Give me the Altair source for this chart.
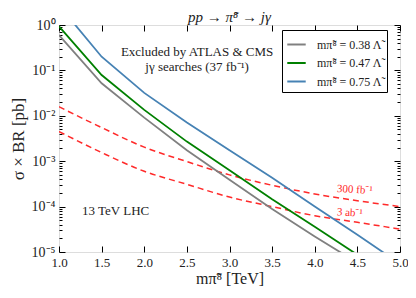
import altair as alt
import pandas as pd

# ---------------- data ----------------
mass = [1.0, 1.5, 2.0, 2.5, 3.0, 3.5, 4.0, 4.5, 5.0]
xs_038 = [0.60, 0.052, 9.1e-3, 1.74e-3, 3.9e-4, 8.9e-5, 2.2e-5, 5.8e-6, 1.6e-6]
xs_047 = [0.93, 0.079, 0.0135, 2.7e-3, 6.3e-4, 1.45e-4, 3.6e-5, 8.7e-6, 2.1e-6]
xs_075 = [2.7, 0.20, 0.032, 7.1e-3, 1.74e-3, 4.3e-4, 1.0e-4, 2.4e-5, 5.5e-6]

reach_300fb = [1.58e-2, 5.5e-3, 2.04e-3, 9.8e-4, 5.0e-4, 2.95e-4, 1.9e-4, 1.35e-4, 1.0e-4]
reach_3ab = [4.5e-3, 1.55e-3, 6.0e-4, 3.1e-4, 1.62e-4, 1.0e-4, 6.3e-5, 4.5e-5, 3.2e-5]

excl_mass = [1.0, 1.114, 1.152, 1.211, 1.27, 1.309, 1.367, 1.407, 1.466, 1.524, 1.583,
             1.622, 1.68, 1.818, 1.915, 2.052, 2.15, 2.263, 2.458, 2.654, 2.771, 2.85,
             3.045, 3.24, 3.30, 3.416, 3.495, 3.572, 3.768, 3.924, 4.081, 4.199, 4.355,
             4.413, 4.531, 4.648, 4.765, 4.883, 5.0]
excl_limit = [0.0457, 0.052, 0.0404, 0.0188, 0.0158, 0.0173, 0.0134, 0.0158, 0.0104,
              0.0081, 0.0088, 0.0074, 0.0063, 0.0068, 0.0058, 0.0045, 0.0038, 0.0027,
              0.0021, 0.00162, 0.00148, 0.00126, 0.00107, 0.00069, 0.00076, 0.00065,
              0.00069, 0.00059, 0.00046, 0.00035, 0.0003, 0.00032, 0.00039, 0.00046,
              0.00047, 0.00042, 0.00042, 0.00035, 0.0003]

series_labels = ["mπ̃⁸ = 0.38 Λ̃", "mπ̃⁸ = 0.47 Λ̃", "mπ̃⁸ = 0.75 Λ̃"]
series_colors = ["#808080", "#008000", "#4682b4"]
reach_labels = ["300 fb⁻¹", "3 ab⁻¹"]

x_ticks = [1.0, 1.5, 2.0, 2.5, 3.0, 3.5, 4.0, 4.5, 5.0]
y_ticks = [1e-5, 1e-4, 1e-3, 1e-2, 1e-1, 1.0]
y_tick_labels = ["10⁰", "10⁻¹", "10⁻²", "10⁻³", "10⁻⁴", "10⁻⁵"]
y_minor = [k * 10.0 ** e for e in range(-5, 0) for k in range(2, 10)]

# annotation positions (data coordinates)
center_text = ["Excluded by ATLAS & CMS", "jγ searches (37 fb⁻¹)"]
center_x = [2.62, 2.62]
center_y = [0.26, 0.117]
left_text = ["13 TeV LHC"]
left_x = [1.27]
left_y = [8.1e-5]
reach_x = [4.26, 4.26]
reach_y = [2.45e-4, 7.5e-5]

# ---------------- build ----------------
W, H = 341, 227
FONT = "Liberation Serif"
RED = "#ff2a2a"

xscale = alt.Scale(domain=[1, 5], nice=False, zero=False)
yscale = alt.Scale(type="log", domain=[1e-5, 1], nice=False)

lines_df = pd.DataFrame({
    "m": mass * 3,
    "xs": xs_038 + xs_047 + xs_075,
    "series": [series_labels[0]] * 9 + [series_labels[1]] * 9 + [series_labels[2]] * 9,
})
reach_df = pd.DataFrame({
    "m": mass * 2,
    "xs": reach_300fb + reach_3ab,
    "lumi": [reach_labels[0]] * 9 + [reach_labels[1]] * 9,
})
excl_df = pd.DataFrame({"m": excl_mass, "xs": excl_limit})
center_df = pd.DataFrame({"m": center_x, "xs": center_y, "t": center_text})
left_df = pd.DataFrame({"m": left_x, "xs": left_y, "t": left_text})
reach_txt_df = pd.DataFrame({"m": reach_x, "xs": reach_y, "t": reach_labels})
frame_df = pd.DataFrame({"m": [1.0, 5.0], "xs": [1e-5, 1.0]})

NOAX = dict(axis=None)


def xy():
    return dict(
        x=alt.X("m:Q", scale=xscale, **NOAX),
        y=alt.Y("xs:Q", scale=yscale, **NOAX),
    )


area = alt.Chart(excl_df).mark_area(color="#ffdfdf", clip=True).encode(
    y2=alt.value(0), order="m:Q", **xy()
)

reach = alt.Chart(reach_df).mark_line(
    color=RED, strokeDash=[6, 4], strokeWidth=1.5, interpolate="monotone", clip=True
).encode(detail="lumi:N", **xy())

lines = alt.Chart(lines_df).mark_line(strokeWidth=1.8, clip=True).encode(
    color=alt.Color(
        "series:N",
        scale=alt.Scale(domain=series_labels, range=series_colors),
        legend=alt.Legend(
            title=None, orient="none", legendX=223, legendY=5,
            fillColor="white", strokeColor="black", padding=4,
            symbolType="stroke", symbolStrokeWidth=2, symbolSize=340,
            labelFont=FONT, labelFontSize=12, rowPadding=1.5, labelOffset=10,
            labelColor="#222", cornerRadius=0,
        ),
    ),
    **xy(),
)

notes_c = alt.Chart(center_df).mark_text(
    font=FONT, fontSize=13, color="#222", align="center"
).encode(text="t:N", **xy())
notes_l = alt.Chart(left_df).mark_text(
    font=FONT, fontSize=13, color="#222", align="left"
).encode(text="t:N", **xy())
reach_txt = alt.Chart(reach_txt_df).mark_text(
    font=FONT, fontSize=11, color=RED, align="left", angle=3
).encode(text="t:N", **xy())

label_expr = "[" + ",".join("'" + s + "'" for s in y_tick_labels) + "][round(-log(datum.value)/LN10)]"

common = dict(domain=False, grid=False, tickColor="black", tickWidth=1)

ax_main = alt.Chart(frame_df).mark_point(opacity=0, size=1).encode(
    x=alt.X("m:Q", scale=xscale, axis=alt.Axis(
        orient="bottom", values=x_ticks, format=".1f", ticks=False, labelFlush=False,
        labelFont=FONT, labelFontSize=13, labelColor="#222", labelPadding=4,
        title="mπ̃⁸ [TeV]", titleFont=FONT, titleFontSize=16, titleFontWeight="normal",
        titleColor="#222", titlePadding=1, **common)),
    y=alt.Y("xs:Q", scale=yscale, axis=alt.Axis(
        orient="left", values=y_ticks, labelExpr=label_expr, ticks=False, labelFlush=False,
        labelFont=FONT, labelFontSize=14, labelColor="#222", labelPadding=4,
        title="σ × BR [pb]", titleFont=FONT, titleFontSize=17, titleFontWeight="normal",
        titleColor="#222", titlePadding=4, **common)),
)
ax_b = alt.Chart(frame_df).mark_point(opacity=0, size=1).encode(
    x=alt.X("m:Q", scale=xscale, axis=alt.Axis(
        orient="top", offset=-H, values=x_ticks, labels=False, tickSize=6, title=None, **common)),
    y=alt.Y("xs:Q", scale=yscale, axis=alt.Axis(
        orient="right", offset=-W, values=y_ticks, labels=False, tickSize=6, title=None, **common)),
)
ax_c = alt.Chart(frame_df).mark_point(opacity=0, size=1).encode(
    x=alt.X("m:Q", scale=xscale, axis=alt.Axis(
        orient="bottom", offset=-H, values=x_ticks, labels=False, tickSize=6, title=None, **common)),
    y=alt.Y("xs:Q", scale=yscale, axis=alt.Axis(
        orient="left", offset=-W, values=y_ticks, labels=False, tickSize=6, title=None, **common)),
)
ax_d = alt.Chart(frame_df).mark_point(opacity=0, size=1).encode(
    x=alt.X("m:Q", scale=xscale, **NOAX),
    y=alt.Y("xs:Q", scale=yscale, axis=alt.Axis(
        orient="right", offset=-W, values=y_minor, labels=False, tickSize=3, title=None, **common)),
)
ax_e = alt.Chart(frame_df).mark_point(opacity=0, size=1).encode(
    x=alt.X("m:Q", scale=xscale, **NOAX),
    y=alt.Y("xs:Q", scale=yscale, axis=alt.Axis(
        orient="left", offset=-W, values=y_minor, labels=False, tickSize=3, title=None, **common)),
)

chart = alt.layer(
    area, reach, lines, notes_c, notes_l, reach_txt, ax_main, ax_b, ax_c, ax_d, ax_e
).resolve_axis(x="independent", y="independent").properties(
    width=W, height=H,
    autosize=alt.AutoSizeParams(type="none"),
    padding={"left": 51, "top": 17, "right": 8, "bottom": 40},
    title=alt.TitleParams(
        text="pp → π̃⁸ → jγ", font=FONT, fontSize=15, fontStyle="italic",
        fontWeight="normal", color="#222", anchor="middle", offset=5, frame="group", dy=12,
    ),
).configure_view(stroke="black", strokeWidth=1.2).configure(background="white")

chart.save("out.html", embed_options={"renderer": "svg", "actions": False})
